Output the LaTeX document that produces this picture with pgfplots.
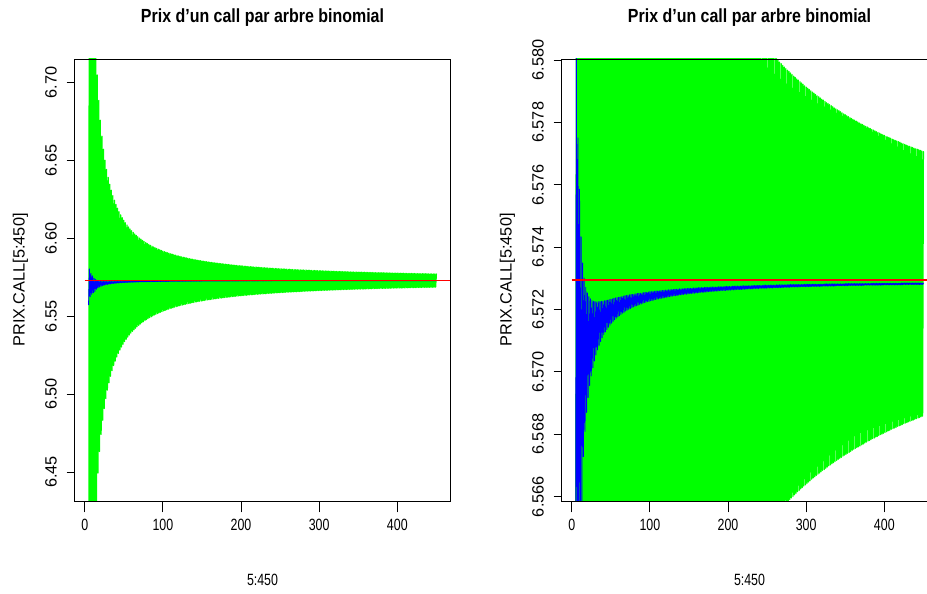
\documentclass[border=0pt]{standalone}
\usepackage{fontspec}
\setmainfont{Liberation Sans}
\newfontfamily\narrowfont{Liberation Sans}[FakeStretch=0.76]
\newfontfamily\titlefont{Liberation Sans}[FakeStretch=0.84]
\usepackage{pgfplots}
\usepackage{pgfplotstable}
\pgfplotsset{compat=1.18}
\definecolor{rgreen}{RGB}{0,255,0}
\definecolor{rblue}{RGB}{0,0,255}
\definecolor{rred}{RGB}{255,0,0}
\pgfplotstableread{
n g b
5 6.08195 6.5573
6 6.99906 6.5803
7 6.24264 6.5625
8 6.87014 6.5775
9 6.32486 6.5640
10 6.79995 6.57585
11 6.37456 6.5650
12 6.75614 6.57433
13 6.40777 6.5658
14 6.72632 6.57349
15 6.43151 6.56728
16 6.70475 6.57301
17 6.44930 6.56809
18 6.68844 6.57271
19 6.46313 6.56870
20 6.67570 6.57253
21 6.47419 6.56918
22 6.66547 6.57241
23 6.48322 6.56956
24 6.65708 6.57234
25 6.49075 6.56987
26 6.65008 6.57229
27 6.49711 6.57013
28 6.64415 6.57226
29 6.50256 6.57035
30 6.63906 6.57225
31 6.50728 6.57054
32 6.63465 6.57224
33 6.51141 6.57070
34 6.63079 6.57225
35 6.51505 6.57085
36 6.62738 6.57225
37 6.51829 6.57097
38 6.62435 6.57226
39 6.52118 6.57109
40 6.62164 6.57227
41 6.52378 6.57119
42 6.61920 6.57228
43 6.52613 6.57128
44 6.61699 6.57229
45 6.52827 6.57136
46 6.61498 6.57230
47 6.53022 6.57143
48 6.61315 6.57232
49 6.53201 6.57150
50 6.61147 6.57233
51 6.53366 6.57156
52 6.60993 6.57234
53 6.53517 6.57162
54 6.60850 6.57236
55 6.53658 6.57167
56 6.60718 6.57237
57 6.53788 6.57172
58 6.60595 6.57238
59 6.53910 6.57176
60 6.60481 6.57239
61 6.54023 6.57180
62 6.60375 6.57240
63 6.54129 6.57184
64 6.60275 6.57241
65 6.54228 6.57188
66 6.60182 6.57243
67 6.54321 6.57191
68 6.60094 6.57244
69 6.54409 6.57195
70 6.60011 6.57245
71 6.54492 6.57198
72 6.59934 6.57246
73 6.54570 6.57200
74 6.59860 6.57247
75 6.54644 6.57203
76 6.59791 6.57248
77 6.54714 6.57206
78 6.59725 6.57248
79 6.54780 6.57208
80 6.59662 6.57249
81 6.54843 6.57210
82 6.59603 6.57250
83 6.54903 6.57212
84 6.59546 6.57251
85 6.54960 6.57214
86 6.59493 6.57252
87 6.55015 6.57216
88 6.59441 6.57252
89 6.55067 6.57218
90 6.59393 6.57253
91 6.55116 6.57220
92 6.59346 6.57254
93 6.55164 6.57222
94 6.59301 6.57255
95 6.55209 6.57223
96 6.59258 6.57255
97 6.55253 6.57225
98 6.59217 6.57256
99 6.55295 6.57226
100 6.59178 6.57257
101 6.55335 6.57228
102 6.59140 6.57257
103 6.55373 6.57229
104 6.59104 6.57258
105 6.55410 6.57230
106 6.59069 6.57258
107 6.55446 6.57232
108 6.59036 6.57259
109 6.55480 6.57233
110 6.59003 6.57259
111 6.55513 6.57234
112 6.58972 6.57260
113 6.55545 6.57235
114 6.58942 6.57260
115 6.55576 6.57236
116 6.58913 6.57261
117 6.55606 6.57237
118 6.58885 6.57261
119 6.55634 6.57238
120 6.58858 6.57262
121 6.55662 6.57239
122 6.58832 6.57262
123 6.55689 6.57240
124 6.58807 6.57263
125 6.55715 6.57241
126 6.58782 6.57263
127 6.55740 6.57242
128 6.58759 6.57264
129 6.55765 6.57243
130 6.58736 6.57264
131 6.55788 6.57244
132 6.58714 6.57265
133 6.55811 6.57244
134 6.58692 6.57265
135 6.55833 6.57245
136 6.58671 6.57265
137 6.55855 6.57246
138 6.58651 6.57266
139 6.55876 6.57247
140 6.58631 6.57266
141 6.55896 6.57247
142 6.58612 6.57266
143 6.55916 6.57248
144 6.58594 6.57267
145 6.55935 6.57249
146 6.58576 6.57267
147 6.55954 6.57249
148 6.58558 6.57267
149 6.55972 6.57250
150 6.58541 6.57268
151 6.55989 6.57251
152 6.58524 6.57268
153 6.56007 6.57251
154 6.58508 6.57268
155 6.56023 6.57252
156 6.58492 6.57269
157 6.56040 6.57252
158 6.58477 6.57269
159 6.56056 6.57253
160 6.58462 6.57269
161 6.56071 6.57253
162 6.58447 6.57270
163 6.56086 6.57254
164 6.58433 6.57270
165 6.56101 6.57255
166 6.58419 6.57270
167 6.56115 6.57255
168 6.58405 6.57270
169 6.56129 6.57255
170 6.58392 6.57271
171 6.56143 6.57256
172 6.58379 6.57271
173 6.56157 6.57256
174 6.58367 6.57271
175 6.56170 6.57257
176 6.58354 6.57271
177 6.56183 6.57257
178 6.58342 6.57272
179 6.56195 6.57258
180 6.58331 6.57272
181 6.56207 6.57258
182 6.58319 6.57272
183 6.56219 6.57259
184 6.58308 6.57272
185 6.56231 6.57259
186 6.58297 6.57272
187 6.56242 6.57259
188 6.58286 6.57273
189 6.56254 6.57260
190 6.58275 6.57273
191 6.56265 6.57260
192 6.58265 6.57273
193 6.56275 6.57261
194 6.58255 6.57273
195 6.56286 6.57261
196 6.58245 6.57274
197 6.56296 6.57261
198 6.58235 6.57274
199 6.56306 6.57262
200 6.58226 6.57274
201 6.56316 6.57262
202 6.58216 6.57274
203 6.56326 6.57262
204 6.58207 6.57274
205 6.56335 6.57263
206 6.58198 6.57275
207 6.56345 6.57263
208 6.58190 6.57275
209 6.56354 6.57263
210 6.58181 6.57275
211 6.56363 6.57264
212 6.58173 6.57275
213 6.56372 6.57264
214 6.58164 6.57275
215 6.56380 6.57264
216 6.58156 6.57275
217 6.56389 6.57264
218 6.58148 6.57276
219 6.56397 6.57265
220 6.58140 6.57276
221 6.56405 6.57265
222 6.58133 6.57276
223 6.56413 6.57265
224 6.58125 6.57276
225 6.56421 6.57266
226 6.58118 6.57276
227 6.56429 6.57266
228 6.58110 6.57276
229 6.56437 6.57266
230 6.58103 6.57276
231 6.56444 6.57266
232 6.58096 6.57277
233 6.56451 6.57267
234 6.58089 6.57277
235 6.56459 6.57267
236 6.58082 6.57277
237 6.56466 6.57267
238 6.58076 6.57277
239 6.56473 6.57267
240 6.58069 6.57277
241 6.56480 6.57268
242 6.58063 6.57277
243 6.56486 6.57268
244 6.58056 6.57277
245 6.56493 6.57268
246 6.58050 6.57278
247 6.56499 6.57268
248 6.58044 6.57278
249 6.56506 6.57268
250 6.58038 6.57278
251 6.56512 6.57269
252 6.58032 6.57278
253 6.56518 6.57269
254 6.58026 6.57278
255 6.56525 6.57269
256 6.58020 6.57278
257 6.56531 6.57269
258 6.58015 6.57278
259 6.56537 6.57270
260 6.58009 6.57278
261 6.56542 6.57270
262 6.58004 6.57279
263 6.56548 6.57270
264 6.57998 6.57279
265 6.56554 6.57270
266 6.57993 6.57279
267 6.56559 6.57270
268 6.57988 6.57279
269 6.56565 6.57270
270 6.57982 6.57279
271 6.56570 6.57271
272 6.57977 6.57279
273 6.56576 6.57271
274 6.57972 6.57279
275 6.56581 6.57271
276 6.57967 6.57279
277 6.56586 6.57271
278 6.57963 6.57280
279 6.56591 6.57271
280 6.57958 6.57280
281 6.56596 6.57272
282 6.57953 6.57280
283 6.56601 6.57272
284 6.57948 6.57280
285 6.56606 6.57272
286 6.57944 6.57280
287 6.56611 6.57272
288 6.57939 6.57280
289 6.56616 6.57272
290 6.57935 6.57280
291 6.56620 6.57272
292 6.57930 6.57280
293 6.56625 6.57273
294 6.57926 6.57280
295 6.56629 6.57273
296 6.57922 6.57280
297 6.56634 6.57273
298 6.57917 6.57281
299 6.56638 6.57273
300 6.57913 6.57281
301 6.56643 6.57273
302 6.57909 6.57281
303 6.56647 6.57273
304 6.57905 6.57281
305 6.56651 6.57273
306 6.57901 6.57281
307 6.56656 6.57274
308 6.57897 6.57281
309 6.56660 6.57274
310 6.57893 6.57281
311 6.56664 6.57274
312 6.57889 6.57281
313 6.56668 6.57274
314 6.57885 6.57281
315 6.56672 6.57274
316 6.57882 6.57281
317 6.56676 6.57274
318 6.57878 6.57281
319 6.56680 6.57274
320 6.57874 6.57281
321 6.56684 6.57275
322 6.57871 6.57281
323 6.56687 6.57275
324 6.57867 6.57282
325 6.56691 6.57275
326 6.57863 6.57282
327 6.56695 6.57275
328 6.57860 6.57282
329 6.56699 6.57275
330 6.57857 6.57282
331 6.56702 6.57275
332 6.57853 6.57282
333 6.56706 6.57275
334 6.57850 6.57282
335 6.56709 6.57275
336 6.57846 6.57282
337 6.56713 6.57275
338 6.57843 6.57282
339 6.56716 6.57276
340 6.57840 6.57282
341 6.56720 6.57276
342 6.57837 6.57282
343 6.56723 6.57276
344 6.57834 6.57282
345 6.56726 6.57276
346 6.57830 6.57282
347 6.56730 6.57276
348 6.57827 6.57282
349 6.56733 6.57276
350 6.57824 6.57283
351 6.56736 6.57276
352 6.57821 6.57283
353 6.56739 6.57276
354 6.57818 6.57283
355 6.56742 6.57277
356 6.57815 6.57283
357 6.56745 6.57277
358 6.57812 6.57283
359 6.56749 6.57277
360 6.57809 6.57283
361 6.56752 6.57277
362 6.57807 6.57283
363 6.56755 6.57277
364 6.57804 6.57283
365 6.56758 6.57277
366 6.57801 6.57283
367 6.56760 6.57277
368 6.57798 6.57283
369 6.56763 6.57277
370 6.57795 6.57283
371 6.56766 6.57277
372 6.57793 6.57283
373 6.56769 6.57277
374 6.57790 6.57283
375 6.56772 6.57278
376 6.57787 6.57283
377 6.56775 6.57278
378 6.57785 6.57283
379 6.56778 6.57278
380 6.57782 6.57283
381 6.56780 6.57278
382 6.57780 6.57283
383 6.56783 6.57278
384 6.57777 6.57284
385 6.56786 6.57278
386 6.57775 6.57284
387 6.56788 6.57278
388 6.57772 6.57284
389 6.56791 6.57278
390 6.57770 6.57284
391 6.56793 6.57278
392 6.57767 6.57284
393 6.56796 6.57278
394 6.57765 6.57284
395 6.56799 6.57278
396 6.57762 6.57284
397 6.56801 6.57278
398 6.57760 6.57284
399 6.56803 6.57279
400 6.57758 6.57284
401 6.56806 6.57279
402 6.57755 6.57284
403 6.56808 6.57279
404 6.57753 6.57284
405 6.56811 6.57279
406 6.57751 6.57284
407 6.56813 6.57279
408 6.57749 6.57284
409 6.56816 6.57279
410 6.57746 6.57284
411 6.56818 6.57279
412 6.57744 6.57284
413 6.56820 6.57279
414 6.57742 6.57284
415 6.56822 6.57279
416 6.57740 6.57284
417 6.56825 6.57279
418 6.57738 6.57284
419 6.56827 6.57279
420 6.57736 6.57284
421 6.56829 6.57279
422 6.57733 6.57285
423 6.56831 6.57279
424 6.57731 6.57285
425 6.56834 6.57280
426 6.57729 6.57285
427 6.56836 6.57280
428 6.57727 6.57285
429 6.56838 6.57280
430 6.57725 6.57285
431 6.56840 6.57280
432 6.57723 6.57285
433 6.56842 6.57280
434 6.57721 6.57285
435 6.56844 6.57280
436 6.57719 6.57285
437 6.56846 6.57280
438 6.57717 6.57285
439 6.56848 6.57280
440 6.57715 6.57285
441 6.56850 6.57280
442 6.57714 6.57285
443 6.56852 6.57280
444 6.57712 6.57285
445 6.56854 6.57280
446 6.57710 6.57285
447 6.56856 6.57280
448 6.57708 6.57285
449 6.56858 6.57280
450 6.57706 6.57285
}\binomdata

\pgfplotsset{
  rbase/.style={
    scale only axis, width=375.6pt, height=442pt, anchor=south west,
    xmin=-12.8, xmax=467.8,
    axis on top,
    axis line style={line width=0.8pt, black},
    tick align=outside, major tick length=8pt,
    xtick pos=lower, ytick pos=left,
    xtick={0,100,200,300,400}, xticklabels={0,100,200,300,400},
    xtick style={line width=0.8pt, black, /pgfplots/major tick length=11.5pt},
    ytick style={line width=0.8pt, black},
    xticklabel style={font=\narrowfont\fontsize{16.3}{19}\selectfont, anchor=base, yshift=-22pt},
    yticklabel style={font=\fontsize{16.3}{19}\selectfont, xshift=-10pt, rotate=90, anchor=base},
    title style={font=\titlefont\bfseries\fontsize{19}{22}\selectfont, at={(axis description cs:0.5,1)}, anchor=base, yshift=30pt},
    xlabel style={font=\narrowfont\fontsize{16.3}{19}\selectfont, at={(axis description cs:0.5,0)}, anchor=base, yshift=-85pt},
    every axis y label/.style={font=\fontsize{16.3}{19}\selectfont, at={(axis description cs:0,0.5)}, xshift=-50pt, rotate=90, anchor=base},
    title={Prix d’un call par arbre binomial},
    xlabel={5:450}, ylabel={PRIX.CALL[5:450]},
  },
  gline/.style={rgreen, line width=1.25pt, line join=round, line cap=round},
  bline/.style={rblue, line width=0.9pt, line join=round, line cap=round},
  rline/.style={rred, line width=1.6pt},
}

\begin{document}
\begin{tikzpicture}
\begin{axis}[rbase, at={(74.7pt,93pt)},
  ymin=6.4314, ymax=6.715,
  ytick={6.45,6.50,6.55,6.60,6.65,6.70},
  yticklabels={6.45,6.50,6.55,6.60,6.65,6.70}]
  \addplot[gline] table[x=n, y=g] {\binomdata};
  \addplot[bline] table[x=n, y=b] {\binomdata};
  \addplot[rline] coordinates {(0,6.57295) (500,6.57295)};
\end{axis}
\begin{axis}[rbase, at={(561.7pt,93pt)},
  ymin=6.56586, ymax=6.58003,
  ytick={6.566,6.568,6.570,6.572,6.574,6.576,6.578,6.580},
  yticklabels={6.566,6.568,6.570,6.572,6.574,6.576,6.578,6.580}]
  \addplot[gline, y filter/.expression={max(6.562,min(6.584,y))}] table[x=n, y=g] {\binomdata};
  \addplot[bline, y filter/.expression={max(6.562,min(6.584,y))}] table[x=n, y=b] {\binomdata};
  \addplot[rline] coordinates {(0,6.57295) (500,6.57295)};
\end{axis}
\pgfresetboundingbox
\useasboundingbox (0pt,0pt) rectangle (927pt,594pt);
\end{tikzpicture}
\end{document}
